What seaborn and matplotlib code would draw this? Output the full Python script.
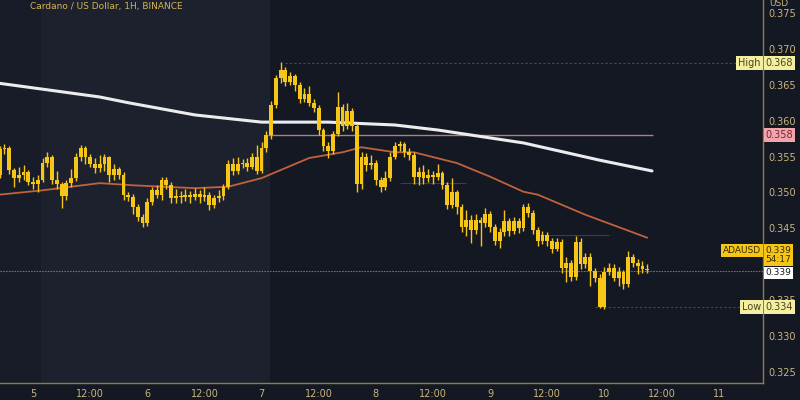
import pandas as pd
import matplotlib.pyplot as plt
import seaborn as sns

# ADA/USD hourly candles (first candle opens at 0.3525)
first_open = 0.3525
closes = [
    0.3560, 0.3562, 0.3531, 0.3520, 0.3524, 0.3528, 0.3515, 0.3512, 0.3518, 0.3541,
    0.3549, 0.3518, 0.3512, 0.3495, 0.3513, 0.3520, 0.3549, 0.3562, 0.3549, 0.3540,
    0.3534, 0.3540, 0.3549, 0.3524, 0.3532, 0.3525, 0.3496, 0.3494, 0.3480, 0.3466,
    0.3457, 0.3487, 0.3503, 0.3497, 0.3517, 0.3510, 0.3492, 0.3495, 0.3493, 0.3496,
    0.3494, 0.3498, 0.3493, 0.3497, 0.3482, 0.3492, 0.3495, 0.3508, 0.3540, 0.3530,
    0.3540, 0.3541, 0.3535, 0.3549, 0.3530, 0.3562, 0.3580, 0.3622, 0.3659, 0.3671,
    0.3654, 0.3662, 0.3650, 0.3630, 0.3637, 0.3625, 0.3618, 0.3587, 0.3565, 0.3558,
    0.3582, 0.3619, 0.3592, 0.3614, 0.3592, 0.3512, 0.3550, 0.3538, 0.3541, 0.3517,
    0.3508, 0.3520, 0.3550, 0.3565, 0.3568, 0.3556, 0.3552, 0.3521, 0.3528, 0.3520,
    0.3524, 0.3521, 0.3527, 0.3510, 0.3482, 0.3500, 0.3480, 0.3452, 0.3462, 0.3448,
    0.3462, 0.3458, 0.3470, 0.3452, 0.3433, 0.3445, 0.3460, 0.3446, 0.3460, 0.3450,
    0.3480, 0.3472, 0.3448, 0.3432, 0.3441, 0.3432, 0.3421, 0.3431, 0.3395, 0.3402,
    0.3382, 0.3431, 0.3400, 0.3410, 0.3390, 0.3381, 0.3341, 0.3389, 0.3395, 0.3381,
    0.3389, 0.3372, 0.3410, 0.3402, 0.3398, 0.3394, 0.3392,
]
highs = [
    0.3565, 0.3568, 0.3565, 0.3534, 0.3535, 0.3538, 0.3531, 0.3522, 0.3525, 0.3548,
    0.3556, 0.3552, 0.3530, 0.3515, 0.3518, 0.3532, 0.3555, 0.3566, 0.3565, 0.3553,
    0.3548, 0.3552, 0.3553, 0.3551, 0.3540, 0.3536, 0.3528, 0.3500, 0.3498, 0.3484,
    0.3470, 0.3492, 0.3508, 0.3510, 0.3521, 0.3522, 0.3514, 0.3505, 0.3502, 0.3505,
    0.3502, 0.3506, 0.3503, 0.3507, 0.3500, 0.3497, 0.3503, 0.3512, 0.3545, 0.3548,
    0.3550, 0.3546, 0.3548, 0.3555, 0.3566, 0.3570, 0.3585, 0.3628, 0.3664, 0.3682,
    0.3675, 0.3668, 0.3665, 0.3654, 0.3645, 0.3648, 0.3630, 0.3622, 0.3590, 0.3570,
    0.3586, 0.3640, 0.3623, 0.3625, 0.3618, 0.3596, 0.3556, 0.3555, 0.3552, 0.3545,
    0.3522, 0.3530, 0.3556, 0.3570, 0.3572, 0.3570, 0.3562, 0.3556, 0.3535, 0.3538,
    0.3532, 0.3530, 0.3540, 0.3530, 0.3514, 0.3520, 0.3504, 0.3484, 0.3475, 0.3468,
    0.3470, 0.3466, 0.3478, 0.3474, 0.3456, 0.3450, 0.3475, 0.3465, 0.3466, 0.3464,
    0.3484, 0.3486, 0.3476, 0.3452, 0.3446, 0.3445, 0.3436, 0.3436, 0.3435, 0.3410,
    0.3406, 0.3440, 0.3436, 0.3416, 0.3415, 0.3395, 0.3386, 0.3396, 0.3402, 0.3400,
    0.3396, 0.3392, 0.3418, 0.3414, 0.3408, 0.3404, 0.3400,
]
lows = [
    0.3520, 0.3553, 0.3526, 0.3508, 0.3515, 0.3518, 0.3510, 0.3505, 0.3500, 0.3514,
    0.3536, 0.3512, 0.3505, 0.3478, 0.3490, 0.3508, 0.3516, 0.3544, 0.3540, 0.3535,
    0.3527, 0.3528, 0.3530, 0.3515, 0.3518, 0.3519, 0.3490, 0.3488, 0.3470, 0.3460,
    0.3452, 0.3453, 0.3482, 0.3492, 0.3490, 0.3505, 0.3486, 0.3485, 0.3486, 0.3488,
    0.3485, 0.3489, 0.3485, 0.3488, 0.3476, 0.3479, 0.3487, 0.3490, 0.3505, 0.3525,
    0.3526, 0.3534, 0.3530, 0.3532, 0.3526, 0.3527, 0.3556, 0.3575, 0.3618, 0.3652,
    0.3648, 0.3650, 0.3642, 0.3625, 0.3626, 0.3620, 0.3612, 0.3580, 0.3558, 0.3548,
    0.3553, 0.3578, 0.3585, 0.3588, 0.3585, 0.3500, 0.3505, 0.3530, 0.3532, 0.3510,
    0.3500, 0.3503, 0.3516, 0.3546, 0.3558, 0.3550, 0.3545, 0.3512, 0.3510, 0.3512,
    0.3514, 0.3512, 0.3517, 0.3505, 0.3477, 0.3478, 0.3470, 0.3445, 0.3440, 0.3430,
    0.3442, 0.3425, 0.3452, 0.3445, 0.3427, 0.3422, 0.3440, 0.3440, 0.3442, 0.3444,
    0.3446, 0.3466, 0.3442, 0.3425, 0.3428, 0.3426, 0.3415, 0.3418, 0.3388, 0.3375,
    0.3376, 0.3378, 0.3394, 0.3395, 0.3370, 0.3375, 0.3339, 0.3337, 0.3385, 0.3376,
    0.3370, 0.3365, 0.3368, 0.3396, 0.3386, 0.3388, 0.3388,
]

# moving averages (white = slow, orange = fast), sampled at candle positions
white_idx = [0, 10, 21, 27, 41, 55, 69, 83, 92, 110, 126, 137]
white_val = [0.3652, 0.3643, 0.3633, 0.3625, 0.3608, 0.3598, 0.3598, 0.3594, 0.3587, 0.3569, 0.3545, 0.3530]
orange_idx = [0, 9, 21, 28, 41, 48, 55, 65, 72, 76, 83, 87, 96, 103, 110, 113, 123, 136]
orange_val = [0.3497, 0.3503, 0.3513, 0.3510, 0.3506, 0.3508, 0.3520, 0.3548, 0.3556, 0.3563,
              0.3556, 0.3556, 0.3541, 0.3522, 0.3501, 0.3497, 0.3469, 0.3437]

# 0.340 sits under the price labels on the original scale, so it is not shown
price_ticks = [0.325, 0.330, 0.335, 0.345, 0.350, 0.355, 0.360, 0.365, 0.370, 0.375]
time_tick_idx = [7, 19, 31, 43, 55, 67, 79, 91, 103, 115, 127, 139, 151]
time_tick_labels = ['5', '12:00', '6', '12:00', '7', '12:00', '8', '12:00', '9', '12:00', '10', '12:00', '11']

high_price, low_price, last_price, level_price = 0.368, 0.334, 0.339, 0.358
countdown = '54:17'

# colours
bg = '#141823'
band = '#1d212e'
candle = '#f5c518'
axis_col = '#8c7d4f'
label_col = '#c9b57f'

sns.set_theme(style="dark")
plt.rcParams['font.family'] = ['Liberation Sans Narrow', 'DejaVu Sans']

df = pd.DataFrame({'close': closes, 'high': highs, 'low': lows})
df['open'] = [first_open] + closes[:-1]
df['idx'] = range(len(df))
df['bottom'] = df[['open', 'close']].min(axis=1)
df['body'] = (df['close'] - df['open']).abs().clip(lower=0.00012)

fig = plt.figure(figsize=(8, 4), dpi=100, facecolor=bg)
ax = fig.add_axes([0, 0.0425, 0.954, 0.9575])
ax.set_facecolor(bg)

# session shading
ax.axvspan(-1, 8.7, color='#181c28', zorder=0, lw=0)
ax.axvspan(8.7, 56.8, color=band, zorder=0, lw=0)

# horizontal reference lines
ax.axhline(last_price, color='#7a7050', lw=0.8, ls=(0, (1.5, 1)), zorder=1)
ax.hlines(high_price, 60, 161, color='#4a4a4a', lw=0.8, ls=(0, (2, 2)), zorder=1)
ax.hlines(low_price + 0.0001, 125, 161, color='#4a4a4a', lw=0.8, ls=(0, (2, 2)), zorder=1)
ax.hlines(0.3513, 84, 98, color='#3d3d45', lw=0.8, zorder=1)
ax.hlines(0.3441, 113, 128, color='#3d3d45', lw=0.8, zorder=1)
ax.hlines(level_price, 56.4, 137.3, color='#a88088', lw=1.0, zorder=2)

# moving averages
sns.lineplot(x=white_idx, y=white_val, ax=ax, color='#ececec', lw=2.2, zorder=3)
sns.lineplot(x=orange_idx, y=orange_val, ax=ax, color='#c0623a', lw=1.3, zorder=3)

# candles
ax.vlines(df['idx'], df['low'], df['high'], color=candle, lw=1.0, zorder=4)
ax.bar(df['idx'], df['body'], bottom=df['bottom'], width=0.8, color=candle, lw=0, zorder=5)

ax.set_xlim(0.06, 160.36)
ax.set_ylim(0.32346, 0.37681)

ax.yaxis.tick_right()
ax.set_yticks(price_ticks)
ax.set_yticklabels([f'{p:.3f}' for p in price_ticks])
ax.set_xticks(time_tick_idx)
ax.set_xticklabels(time_tick_labels)
ax.tick_params(colors=label_col, labelsize=7, length=0)
ax.tick_params(axis='y', pad=4)
ax.tick_params(axis='x', pad=4)
ax.grid(False)
for side in ['top', 'left']:
    ax.spines[side].set_visible(False)
for side in ['right', 'bottom']:
    ax.spines[side].set_visible(True)
    ax.spines[side].set_color(axis_col)
    ax.spines[side].set_linewidth(1)

# price scale labels
tr = ax.get_yaxis_transform()
def tag(x, y, s, fc, tc, ha='left', size=7):
    ax.text(x, y, s, transform=tr, ha=ha, va='center', fontsize=size, color=tc, clip_on=False, zorder=10,
            linespacing=1.0, bbox=dict(boxstyle='square,pad=0.2', fc=fc, ec='none'))

tag(1.003, high_price, f'{high_price:.3f}', '#f3eea0', '#4a4420')
tag(0.997, high_price, 'High', '#f3eea0', '#4a4420', ha='right')
tag(1.003, level_price, f'{level_price:.3f}', '#f2a3ab', '#6e2a30')
tag(1.003, 0.3413, f'{last_price:.3f}\n{countdown}', candle, '#3a2c00', size=6.5)
tag(0.997, 0.3419, 'ADAUSD', candle, '#3a2c00', ha='right', size=6.5)
tag(1.003, last_price - 0.0002, f'{last_price:.3f}', '#ffffff', '#1a1a1a', size=6.5)
tag(1.003, low_price + 0.0001, f'{low_price:.3f}', '#f3eea0', '#4a4420')
tag(0.997, low_price + 0.0001, 'Low', '#f3eea0', '#4a4420', ha='right')

fig.text(0.962, 0.99, 'USD', fontsize=6.5, color=label_col, va='center')
fig.text(0.038, 0.985, 'Cardano / US Dollar, 1H, BINANCE', fontsize=6.5, color='#d4b456', va='center')

fig.savefig('out.png', dpi=100, facecolor=bg)
